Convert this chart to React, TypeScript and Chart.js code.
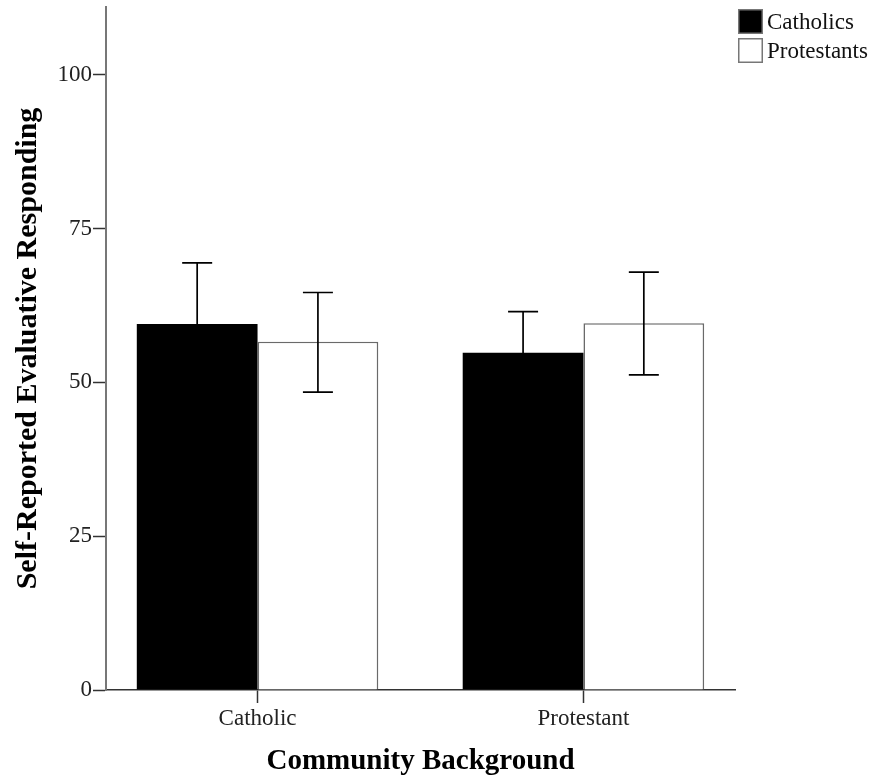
import React, { useEffect, useRef } from "react";
import { Chart, registerables } from "chart.js";

Chart.register(...registerables);

const categories = ["Catholic", "Protestant"];
const seriesLabels = ["Catholics", "Protestants"];
const catholicsMeans = [59.5, 54.8];
const catholicsLow = [49.6, 48.1];
const catholicsHigh = [69.4, 61.5];
const protestantsMeans = [56.6, 59.6];
const protestantsLow = [48.4, 51.2];
const protestantsHigh = [64.6, 67.9];
const yTicks = [0, 25, 50, 75, 100];
const xTitle = "Community Background";
const yTitle = "Self-Reported Evaluative Responding";

const SERIF = "'Liberation Serif', 'Times New Roman', serif";

const errorLows = [catholicsLow, protestantsLow];
const errorHighs = [catholicsHigh, protestantsHigh];

const errorBarPlugin = {
  id: "errorBars",
  afterDatasetsDraw(chart: any) {
    const { ctx } = chart;
    const yScale = chart.scales.y;
    ctx.save();
    ctx.strokeStyle = "#000";
    ctx.lineWidth = 1.7;
    chart.data.datasets.forEach((_: any, di: number) => {
      const meta = chart.getDatasetMeta(di);
      meta.data.forEach((el: any, j: number) => {
        const x = el.x;
        const yl = yScale.getPixelForValue(errorLows[di][j]);
        const yh = yScale.getPixelForValue(errorHighs[di][j]);
        const cap = 15;
        ctx.beginPath();
        ctx.moveTo(x, yl);
        ctx.lineTo(x, yh);
        ctx.moveTo(x - cap, yl);
        ctx.lineTo(x + cap, yl);
        ctx.moveTo(x - cap, yh);
        ctx.lineTo(x + cap, yh);
        ctx.stroke();
      });
    });
    ctx.restore();
  },
};

const legendPlugin = {
  id: "customLegend",
  afterDraw(chart: any) {
    const { ctx, chartArea } = chart;
    ctx.save();
    chart.data.datasets.forEach((ds: any, i: number) => {
      const bx = chartArea.right + 3;
      const by = 9 + i * 29;
      const size = 25;
      ctx.fillStyle = ds.backgroundColor;
      ctx.fillRect(bx, by, size, size);
      ctx.strokeStyle = "#777";
      ctx.lineWidth = 1.5;
      ctx.strokeRect(bx + 0.75, by + 0.75, size - 1.5, size - 1.5);
      ctx.fillStyle = "#111";
      ctx.font = `23px ${SERIF}`;
      ctx.textBaseline = "middle";
      ctx.textAlign = "left";
      ctx.fillText(ds.label, bx + size + 4, by + size / 2 + 1);
    });
    ctx.restore();
  },
};

export default function App() {
  const canvasRef = useRef<HTMLCanvasElement | null>(null);

  useEffect(() => {
    const canvas = canvasRef.current;
    if (!canvas) return;
    const chart = new Chart(canvas, {
      type: "bar",
      data: {
        datasets: [
          {
            label: seriesLabels[0],
            data: catholicsMeans.map((v, i) => ({ x: i, y: v })),
            backgroundColor: "#000000",
            borderColor: "#000000",
            borderWidth: 0,
            categoryPercentage: 0.741,
            barPercentage: 1,
          },
          {
            label: seriesLabels[1],
            data: protestantsMeans.map((v, i) => ({ x: i, y: v })),
            backgroundColor: "#ffffff",
            borderColor: "#6a6a6a",
            borderWidth: 1.6,
            categoryPercentage: 0.741,
            barPercentage: 1,
          },
        ] as any,
      },
      options: {
        responsive: false,
        animation: false,
        devicePixelRatio: 1,
        layout: { padding: { top: 7, right: 143, left: 0, bottom: 0 } },
        plugins: {
          legend: { display: false },
          tooltip: { enabled: false },
        },
        scales: {
          x: {
            type: "linear",
            min: -0.465,
            max: 1.465,
            offset: false,
            grid: {
              display: true,
              drawOnChartArea: false,
              offset: false,
              tickLength: 13,
              tickColor: "#333",
              tickWidth: 1.5,
            },
            border: { color: "#333", width: 1.5 },
            afterBuildTicks: (scale: any) => {
              scale.ticks = categories.map((_, i) => ({ value: i }));
            },
            afterFit: (scale: any) => {
              scale.height = 92;
            },
            ticks: {
              autoSkip: false,
              maxRotation: 0,
              padding: 2,
              color: "#222",
              font: { family: SERIF, size: 23 },
              callback: (v: any) => categories[v] ?? "",
            },
            title: {
              display: true,
              text: xTitle,
              color: "#000",
              font: { family: SERIF, size: 29, weight: "bold" },
              padding: { top: 0, bottom: 3 },
            },
          },
          y: {
            type: "linear",
            min: 0,
            max: 111,
            grid: {
              display: true,
              drawOnChartArea: false,
              tickLength: 13,
              tickColor: "#333",
              tickWidth: 1.5,
            },
            border: { color: "#777", width: 2 },
            afterBuildTicks: (scale: any) => {
              scale.ticks = yTicks.map((v) => ({ value: v }));
            },
            afterFit: (scale: any) => {
              scale.width = 106;
              scale.paddingTop = 0;
              scale.paddingBottom = 0;
            },
            ticks: {
              padding: 1,
              color: "#222",
              font: { family: SERIF, size: 23 },
            },
            title: {
              display: true,
              text: yTitle,
              color: "#000",
              font: { family: SERIF, size: 30, weight: "bold" },
              padding: { top: 10, bottom: 0 },
            },
          },
        },
      } as any,
      plugins: [errorBarPlugin, legendPlugin],
    });
    return () => chart.destroy();
  }, []);

  return (
    <div style={{ position: "absolute", left: 0, top: 0, width: 878, height: 782, background: "#fff" }}>
      <canvas ref={canvasRef} width={878} height={782} />
    </div>
  );
}
